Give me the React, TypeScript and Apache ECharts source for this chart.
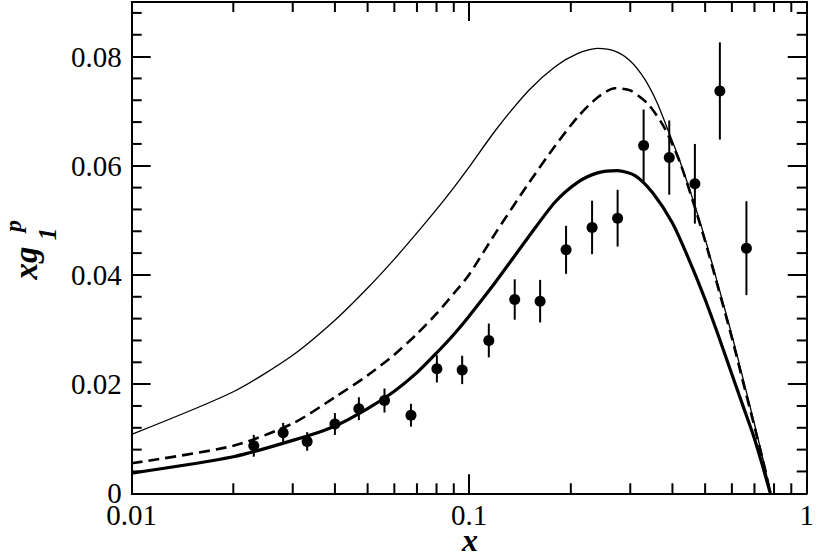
import React, { useEffect, useRef } from "react";
import * as echarts from "echarts";

// ---- data ----
const pointX = [0.0230, 0.0281, 0.0331, 0.0400, 0.0471, 0.0561, 0.0672, 0.0802, 0.0953, 0.1143,
  0.1364, 0.1622, 0.1936, 0.2312, 0.2752, 0.3286, 0.3914, 0.4662, 0.5528, 0.6626];
const pointY = [0.0087, 0.0111, 0.0095, 0.0127, 0.0155, 0.0170, 0.0143, 0.0228, 0.0226, 0.0280,
  0.0355, 0.0352, 0.0446, 0.0487, 0.0504, 0.0637, 0.0615, 0.0567, 0.0737, 0.0449];
const pointErr = [0.0020, 0.0018, 0.0017, 0.0020, 0.0021, 0.0022, 0.0021, 0.0025, 0.0026, 0.0031,
  0.0037, 0.0039, 0.0044, 0.0049, 0.0052, 0.0066, 0.0068, 0.0073, 0.0089, 0.0086];

const thinX = [0.01, 0.02, 0.03, 0.04, 0.05, 0.06, 0.07, 0.08, 0.09, 0.10, 0.12, 0.15, 0.18, 0.21,
  0.24, 0.27, 0.30, 0.33, 0.36, 0.39, 0.42, 0.46, 0.50, 0.55, 0.60, 0.65, 0.70, 0.75, 0.78];
const thinY = [0.0108, 0.0186, 0.0253, 0.0317, 0.0376, 0.0429, 0.0477, 0.0520, 0.0560, 0.0598,
  0.0666, 0.0738, 0.0782, 0.0806, 0.0815, 0.0810, 0.0792, 0.0760, 0.0716, 0.0662, 0.0610, 0.0538,
  0.0466, 0.0375, 0.0290, 0.0206, 0.0127, 0.0050, 0.0];

const dashX = [0.01, 0.02, 0.03, 0.04, 0.05, 0.06, 0.07, 0.08, 0.09, 0.10, 0.12, 0.15, 0.18, 0.21,
  0.24, 0.27, 0.30, 0.34, 0.38, 0.42, 0.46, 0.50, 0.55, 0.60, 0.65, 0.70, 0.75, 0.78];
const dashY = [0.0055, 0.0087, 0.0128, 0.0176, 0.0216, 0.0254, 0.0292, 0.0329, 0.0366, 0.0401,
  0.0478, 0.0568, 0.0637, 0.0690, 0.0725, 0.0742, 0.0738, 0.0712, 0.0668, 0.0608, 0.0535, 0.0462,
  0.0370, 0.0285, 0.0200, 0.0122, 0.0048, 0.0];

const thickX = [0.01, 0.02, 0.03, 0.04, 0.05, 0.06, 0.07, 0.08, 0.09, 0.10, 0.12, 0.15, 0.18, 0.21,
  0.24, 0.275, 0.31, 0.35, 0.40, 0.45, 0.50, 0.55, 0.60, 0.65, 0.70, 0.74, 0.78];
const thickY = [0.0037, 0.0067, 0.0097, 0.0123, 0.0155, 0.0187, 0.0221, 0.0257, 0.0291, 0.0325,
  0.0388, 0.0470, 0.0534, 0.0570, 0.0587, 0.0591, 0.0582, 0.0550, 0.0495, 0.0425, 0.0355, 0.0285,
  0.0218, 0.0157, 0.0100, 0.0050, 0.0];

const xMinorTicks = [0.02, 0.03, 0.04, 0.05, 0.06, 0.07, 0.08, 0.09, 0.2, 0.3, 0.4, 0.5, 0.6, 0.7, 0.8, 0.9];
const yMinorTicks = [0.004, 0.008, 0.012, 0.016, 0.024, 0.028, 0.032, 0.036, 0.044, 0.048, 0.052,
  0.056, 0.064, 0.068, 0.072, 0.076, 0.084, 0.088];

const X_MIN = 0.01, X_MAX = 1, Y_MIN = 0, Y_MAX = 0.09;
const FONT = "Liberation Serif";

export default function App() {
  const ref = useRef<HTMLDivElement>(null);
  useEffect(() => {
    if (!ref.current) return;
    const chart = echarts.init(ref.current, null, { renderer: "svg" });
    const black = "#000";
    const tickStyle = { stroke: black, lineWidth: 2 };

    const logAxisBase = {
      type: "log" as const,
      logBase: 10,
      min: X_MIN,
      max: X_MAX,
      axisLine: { show: true, onZero: false, lineStyle: { color: black, width: 2 } },
      axisTick: { show: true, inside: true, length: 19, lineStyle: { color: black, width: 2 } },
      splitLine: { show: false },
    };
    const valAxisBase = {
      type: "value" as const,
      min: Y_MIN,
      max: Y_MAX,
      interval: 0.02,
      axisLine: { show: true, onZero: false, lineStyle: { color: black, width: 2 } },
      axisTick: { show: true, inside: true, length: 19, lineStyle: { color: black, width: 2 } },
      splitLine: { show: false },
    };
    const textBase = { fill: black, fontFamily: FONT, fontStyle: "italic", fontWeight: "bold",
      align: "center", verticalAlign: "middle" };

    chart.setOption({
      animation: false,
      backgroundColor: "#fff",
      grid: { left: 131.7, right: 9, top: 2, bottom: 63.7, containLabel: false },
      xAxis: [
        {
          ...logAxisBase,
          position: "bottom",
          axisLabel: {
            show: true,
            margin: 7,
            color: black,
            fontFamily: FONT,
            fontSize: 29,
            formatter: (v: number) => String(Number(v.toPrecision(3))),
          },
        },
        { ...logAxisBase, position: "top", axisLabel: { show: false } },
      ],
      yAxis: [
        {
          ...valAxisBase,
          position: "left",
          axisLabel: {
            show: true,
            margin: 10,
            color: black,
            fontFamily: FONT,
            fontSize: 29,
            formatter: (v: number) => {
              if (Math.abs(v - Y_MAX) < 1e-9) return "";
              return v === 0 ? "0" : v.toFixed(2);
            },
          },
        },
        { ...valAxisBase, position: "right", axisLabel: { show: false } },
      ],
      series: [
        {
          type: "custom",
          name: "xMinor",
          clip: false,
          silent: true,
          data: xMinorTicks.map((v) => [v, Y_MIN]),
          renderItem: (params: any, api: any) => {
            const x = api.value(0);
            const pb = api.coord([x, Y_MIN]);
            const pt = api.coord([x, Y_MAX]);
            return {
              type: "group",
              children: [
                { type: "line", shape: { x1: pb[0], y1: pb[1], x2: pb[0], y2: pb[1] - 10 }, style: tickStyle },
                { type: "line", shape: { x1: pt[0], y1: pt[1], x2: pt[0], y2: pt[1] + 10 }, style: tickStyle },
              ],
            };
          },
        },
        {
          type: "custom",
          name: "yMinor",
          clip: false,
          silent: true,
          data: yMinorTicks.map((v) => [X_MIN, v]),
          renderItem: (params: any, api: any) => {
            const y = api.value(1);
            const pl = api.coord([X_MIN, y]);
            const pr = api.coord([X_MAX, y]);
            return {
              type: "group",
              children: [
                { type: "line", shape: { x1: pl[0], y1: pl[1], x2: pl[0] + 10, y2: pl[1] }, style: tickStyle },
                { type: "line", shape: { x1: pr[0], y1: pr[1], x2: pr[0] - 10, y2: pr[1] }, style: tickStyle },
              ],
            };
          },
        },
        {
          type: "line",
          name: "thin",
          data: thinX.map((x, i) => [x, thinY[i]]),
          showSymbol: false,
          smooth: 0.25,
          lineStyle: { color: black, width: 1.3 },
          z: 3,
        },
        {
          type: "line",
          name: "dashed",
          data: dashX.map((x, i) => [x, dashY[i]]),
          showSymbol: false,
          smooth: 0.25,
          lineStyle: { color: black, width: 2.6, type: [11, 6] },
          z: 3,
        },
        {
          type: "line",
          name: "thick",
          data: thickX.map((x, i) => [x, thickY[i]]),
          showSymbol: false,
          smooth: 0.25,
          lineStyle: { color: black, width: 3.2 },
          z: 3,
        },
        {
          type: "custom",
          name: "errors",
          silent: true,
          data: pointX.map((x, i) => [x, pointY[i] - pointErr[i], pointY[i] + pointErr[i]]),
          encode: { x: 0, y: [1, 2] },
          renderItem: (params: any, api: any) => {
            const x = api.value(0);
            const lo = api.coord([x, api.value(1)]);
            const hi = api.coord([x, api.value(2)]);
            return {
              type: "line",
              shape: { x1: lo[0], y1: lo[1], x2: hi[0], y2: hi[1] },
              style: { stroke: black, lineWidth: 2 },
            };
          },
          z: 4,
        },
        {
          type: "scatter",
          name: "data",
          data: pointX.map((x, i) => [x, pointY[i]]),
          symbol: "circle",
          symbolSize: 11,
          itemStyle: { color: black, opacity: 1 },
          z: 5,
        },
      ],
      graphic: [
        {
          type: "text",
          x: 26,
          y: 263,
          rotation: Math.PI / 2,
          style: { ...textBase, text: "xg", fontSize: 33 },
        },
        {
          type: "text",
          x: 47,
          y: 234,
          rotation: Math.PI / 2,
          style: { ...textBase, text: "1", fontSize: 25 },
        },
        {
          type: "text",
          x: 13,
          y: 226,
          rotation: Math.PI / 2,
          style: { ...textBase, text: "p", fontSize: 24 },
        },
        {
          type: "text",
          x: 470,
          y: 540,
          style: { ...textBase, text: "x", fontSize: 32 },
        },
      ],
    });
    return () => chart.dispose();
  }, []);
  return (
    <div
      ref={ref}
      style={{ position: "absolute", left: 0, top: 0, width: 817, height: 557, background: "#fff" }}
    />
  );
}
